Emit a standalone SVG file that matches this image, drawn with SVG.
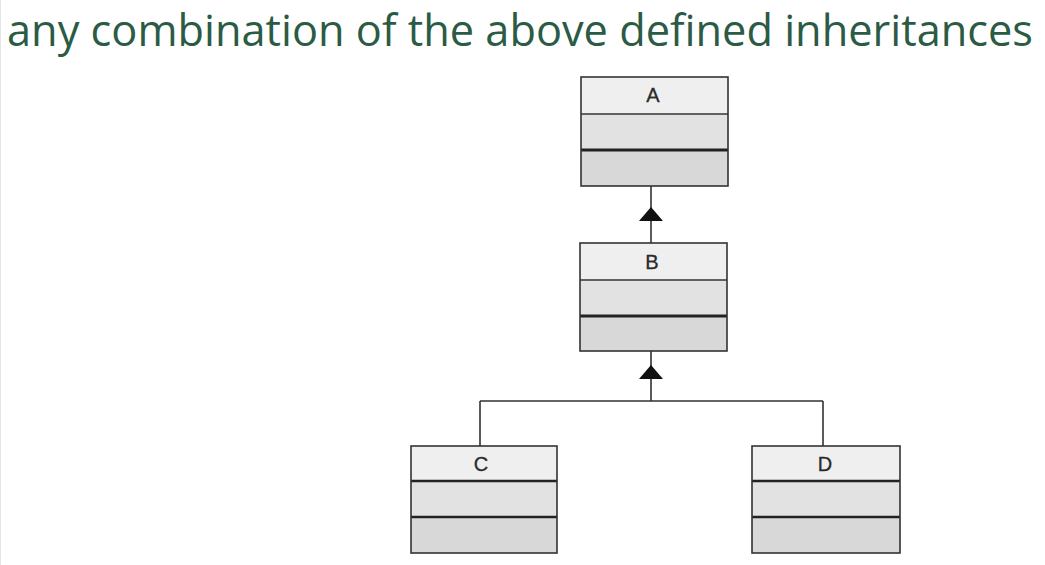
<svg xmlns="http://www.w3.org/2000/svg" width="1045" height="565" viewBox="0 0 1045 565">
<style>
.title{font-family:"Open Sans","Noto Sans",sans-serif;font-size:38px;fill:#2B5B45}
.hdr{fill:#EFEFEF}
.mid{fill:#E2E2E2}
.bot{fill:#D8D8D8}
.frame{fill:none;stroke:#333;stroke-width:1.6}
.div{stroke:#333;stroke-width:1.6}
.thick{stroke:#222;stroke-width:3}
.lbl{font-family:"Liberation Sans",Arial,sans-serif;font-size:20px;fill:#2a2a2a;text-anchor:middle;stroke:#2a2a2a;stroke-width:0.3}
.conn{fill:none;stroke:#333;stroke-width:1.6}
.head{fill:#111}
</style>
<rect width="1045" height="565" fill="#fff"/>
<line x1="0.5" y1="0" x2="0.5" y2="565" stroke="#e6e6e6"/>
<text class="title" transform="translate(7,46) scale(1,1.16)" x="0" y="0" textLength="1026" lengthAdjust="spacingAndGlyphs">any combination of the above defined inheritances</text>
<g id="connectors">
<line class="conn" x1="651" y1="186" x2="651" y2="243"/>
<polygon class="head" points="651,207 663,221 639,221"/>
<path class="conn" d="M651,351 V401 M480,401 H823 M480,401 V446 M823,401 V446"/>
<polygon class="head" points="651,365 663,379 639,379"/>
</g>
<g id="A">
<rect class="hdr" x="581" y="77" width="147" height="37"/>
<rect class="mid" x="581" y="114" width="147" height="36"/>
<rect class="bot" x="581" y="150" width="147" height="36"/>
<line class="div" x1="581" y1="114" x2="728" y2="114"/>
<line class="thick" x1="581" y1="150" x2="728" y2="150"/>
<rect class="frame" x="581" y="77" width="147" height="109"/>
<text class="lbl" x="653" y="102">A</text>
</g>
<g id="B">
<rect class="hdr" x="580" y="243" width="147" height="37"/>
<rect class="mid" x="580" y="280" width="147" height="36"/>
<rect class="bot" x="580" y="316" width="147" height="35"/>
<line class="div" x1="580" y1="280" x2="727" y2="280"/>
<line class="thick" x1="580" y1="316" x2="727" y2="316"/>
<rect class="frame" x="580" y="243" width="147" height="108"/>
<text class="lbl" x="652" y="269">B</text>
</g>
<g id="C">
<rect class="hdr" x="411" y="446" width="146" height="35"/>
<rect class="mid" x="411" y="481" width="146" height="36"/>
<rect class="bot" x="411" y="517" width="146" height="36"/>
<line class="thick" x1="411" y1="481" x2="557" y2="481" style="stroke-width:2.4"/>
<line class="thick" x1="411" y1="517" x2="557" y2="517" style="stroke-width:2.4"/>
<rect class="frame" x="411" y="446" width="146" height="107"/>
<text class="lbl" x="481" y="471">C</text>
</g>
<g id="D">
<rect class="hdr" x="752" y="446" width="148" height="35"/>
<rect class="mid" x="752" y="481" width="148" height="36"/>
<rect class="bot" x="752" y="517" width="148" height="36"/>
<line class="thick" x1="752" y1="481" x2="900" y2="481" style="stroke-width:2.4"/>
<line class="thick" x1="752" y1="517" x2="900" y2="517" style="stroke-width:2.4"/>
<rect class="frame" x="752" y="446" width="148" height="107"/>
<text class="lbl" x="825" y="471">D</text>
</g>
</svg>
